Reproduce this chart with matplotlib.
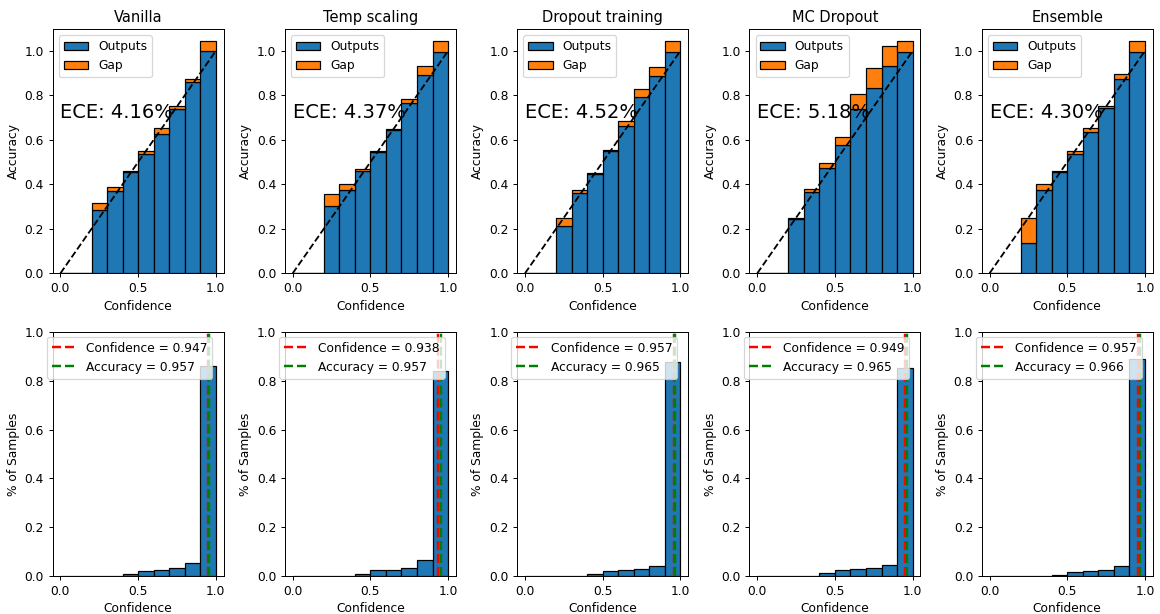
import numpy as np
import matplotlib
matplotlib.use('Agg')
import matplotlib.pyplot as plt

# model names and summary numbers
modelos = ['Vanilla', 'Temp scaling', 'Dropout training', 'MC Dropout', 'Ensemble']
ece = [4.16, 4.37, 4.52, 5.18, 4.30]
conf_media = [0.947, 0.938, 0.957, 0.949, 0.957]
acc_media = [0.957, 0.957, 0.965, 0.965, 0.966]

# accuracy per confidence bin (10 bins of width 0.1)
acc_vanilla = [0, 0, 0.284, 0.372, 0.455, 0.536, 0.625, 0.739, 0.860, 1.000]
acc_temp = [0, 0, 0.301, 0.373, 0.458, 0.546, 0.645, 0.764, 0.891, 0.996]
acc_dropout = [0, 0, 0.212, 0.361, 0.448, 0.551, 0.664, 0.791, 0.887, 0.996]
acc_mc = [0, 0, 0.246, 0.364, 0.472, 0.579, 0.739, 0.833, 0.934, 0.996]
acc_ensemble = [0, 0, 0.137, 0.376, 0.455, 0.536, 0.634, 0.745, 0.873, 0.996]

# |accuracy - confidence| per bin
gap_vanilla = [0, 0, 0.032, 0.018, 0.003, 0.016, 0.027, 0.013, 0.012, 0.045]
gap_temp = [0, 0, 0.056, 0.028, 0.012, 0.005, 0.004, 0.020, 0.042, 0.049]
gap_dropout = [0, 0, 0.037, 0.012, 0.004, 0.002, 0.020, 0.039, 0.040, 0.049]
gap_mc = [0, 0, 0.003, 0.014, 0.024, 0.033, 0.065, 0.088, 0.088, 0.049]
gap_ensemble = [0, 0, 0.112, 0.025, 0.005, 0.016, 0.018, 0.007, 0.023, 0.049]

# fraction of samples per bin
frac_vanilla = [0, 0, 0, 0.001, 0.007, 0.021, 0.023, 0.032, 0.055, 0.862]
frac_temp = [0, 0, 0, 0.002, 0.010, 0.023, 0.025, 0.034, 0.067, 0.842]
frac_dropout = [0, 0, 0, 0.001, 0.008, 0.020, 0.023, 0.030, 0.041, 0.878]
frac_mc = [0, 0, 0, 0.002, 0.012, 0.025, 0.029, 0.033, 0.047, 0.854]
frac_ensemble = [0, 0, 0, 0.001, 0.006, 0.018, 0.019, 0.026, 0.041, 0.891]

accs = [acc_vanilla, acc_temp, acc_dropout, acc_mc, acc_ensemble]
gaps = [gap_vanilla, gap_temp, gap_dropout, gap_mc, gap_ensemble]
fracs = [frac_vanilla, frac_temp, frac_dropout, frac_mc, frac_ensemble]

bordas = np.linspace(0, 1, 11)
centros = (bordas[:-1] + bordas[1:]) / 2
largura = 0.1

fig, axs = plt.subplots(2, 5, figsize=(1160 / 88, 614 / 88), dpi=88)
fig.subplots_adjust(left=0.0454, right=0.9937, top=0.9523, bottom=0.0619,
                    wspace=0.359, hspace=0.2406)

for i in range(5):
    # reliability diagram
    ax = axs[0, i]
    acc = np.array(accs[i])
    gap = np.array(gaps[i])
    ax.bar(centros, acc, width=largura, edgecolor='black', color='C0', label='Outputs')
    ax.bar(centros, gap, bottom=acc, width=largura, edgecolor='black', color='C1', label='Gap')
    ax.plot([0, 1], [0, 1], 'k--', linewidth=1.5)
    ax.text(0.0, 0.7, f'ECE: {ece[i]:.2f}%', fontsize=16)
    ax.legend(loc='upper left')
    ax.set_title(modelos[i])
    ax.set_xlabel('Confidence')
    ax.set_ylabel('Accuracy')

    # confidence histogram
    ax = axs[1, i]
    ax.bar(centros, fracs[i], width=largura, edgecolor='black', color='C0')
    ax.axvline(conf_media[i], color='r', linestyle='--', linewidth=2,
               label=f'Confidence = {conf_media[i]:.3f}')
    ax.axvline(acc_media[i], color='g', linestyle='--', linewidth=2,
               label=f'Accuracy = {acc_media[i]:.3f}')
    ax.set_ylim(0, 1)
    ax.legend(loc='upper left', bbox_to_anchor=(-0.034, 0.981), borderaxespad=0)
    ax.set_xlabel('Confidence')
    ax.set_ylabel('% of Samples')

fig.savefig('out.png', dpi=88)
